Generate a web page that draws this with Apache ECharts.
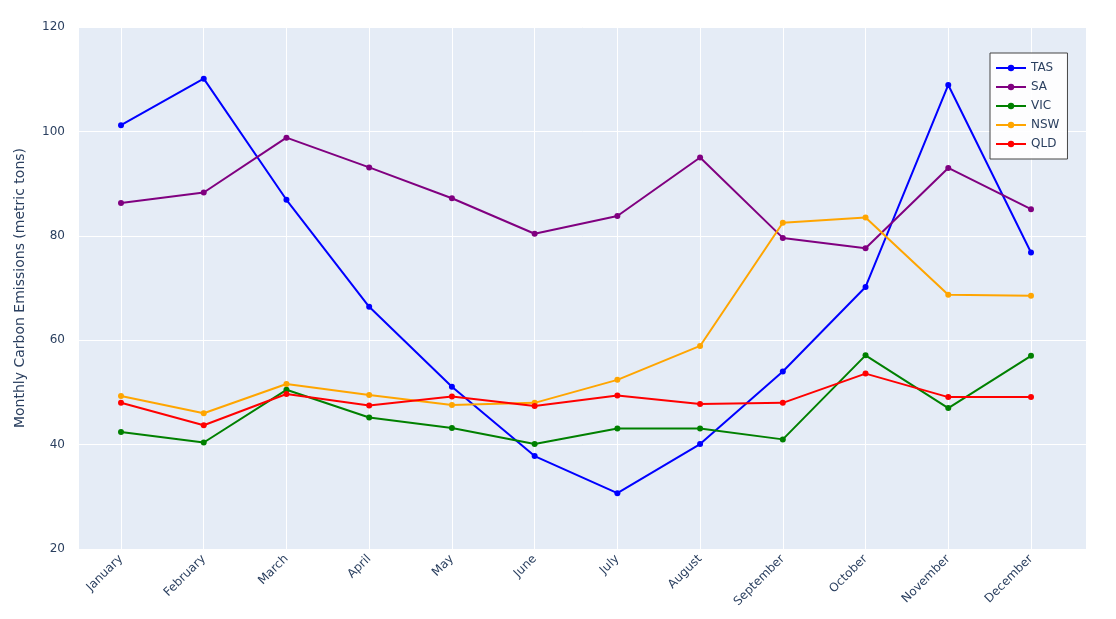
<!DOCTYPE html>
<html>
<head>
<meta charset="utf-8">
<script src="https://cdn.jsdelivr.net/npm/echarts@6/dist/echarts.min.js"></script>
<style>
  html, body { margin: 0; padding: 0; background: #fff; }
  #chart { width: 1116px; height: 619px; }
</style>
</head>
<body>
<div id="chart"></div>
<script>
// Data
const months = ["January", "February", "March", "April", "May", "June",
  "July", "August", "September", "October", "November", "December"];
const yTicks = { min: 20, max: 120, step: 20 };

const tas = [101.2, 110.1, 86.9, 66.4, 51.1, 37.8, 30.7, 40.1, 54.0, 70.2, 108.9, 76.8];
const sa = [86.3, 88.3, 98.8, 93.1, 87.2, 80.4, 83.8, 95.0, 79.6, 77.6, 93.0, 85.1];
const vic = [42.4, 40.4, 50.5, 45.2, 43.2, 40.1, 43.1, 43.1, 41.0, 57.1, 47.0, 57.0];
const nsw = [49.3, 46.0, 51.6, 49.5, 47.6, 48.0, 52.4, 58.9, 82.5, 83.5, 68.7, 68.5];
const qld = [48.0, 43.7, 49.7, 47.5, 49.2, 47.4, 49.4, 47.8, 48.0, 53.6, 49.1, 49.1];

const seriesNames = ["TAS", "SA", "VIC", "NSW", "QLD"];
const seriesData = [tas, sa, vic, nsw, qld];
const seriesColors = ["#0000ff", "#800080", "#008000", "#ffa500", "#ff0000"];

const textColor = "#2a3f5f";
const font = '"DejaVu Sans", Verdana, sans-serif';

const chart = echarts.init(document.getElementById("chart"));

const series = seriesNames.map((name, i) => ({
  name: name,
  type: "line",
  xAxisIndex: 1,
  yAxisIndex: 1,
  data: seriesData[i],
  symbol: "circle",
  symbolSize: 6,
  showSymbol: true,
  lineStyle: { width: 2, color: seriesColors[i] },
  itemStyle: { color: seriesColors[i] },
}));

const option = {
  animation: false,
  textStyle: { fontFamily: font },
  // grid 0 = full plot background, grid 1 = where the points live
  grid: [
    { left: 79, right: 30, top: 27, bottom: 70, show: true,
      backgroundColor: "#e5ecf6", borderWidth: 0 },
    { left: 121, right: 85, top: 27, bottom: 70 },
  ],
  legend: {
    orient: "vertical",
    left: 990,
    top: 53,
    padding: [8, 8, 8, 5],
    itemGap: 5,
    itemWidth: 30,
    itemHeight: 8,
    backgroundColor: "rgba(255,255,255,0.9)",
    borderColor: "#444",
    borderWidth: 1,
    borderRadius: 0,
    textStyle: { color: textColor, fontSize: 12, fontFamily: font, lineHeight: 14 },
    data: seriesNames,
  },
  xAxis: [
    { gridIndex: 0, type: "value", show: false, min: 0, max: 1 },
    {
      gridIndex: 1,
      type: "category",
      boundaryGap: false,
      data: months,
      axisLine: { show: false },
      axisTick: { show: false },
      axisLabel: { rotate: 45, color: textColor, fontSize: 12, margin: 8, interval: 0 },
      splitLine: { show: true, lineStyle: { color: "#ffffff", width: 1 } },
    },
  ],
  yAxis: [
    {
      gridIndex: 0,
      type: "value",
      min: yTicks.min,
      max: yTicks.max,
      interval: yTicks.step,
      name: "Monthly Carbon Emissions (metric tons)",
      nameLocation: "middle",
      nameGap: 52,
      nameTextStyle: { color: textColor, fontSize: 14 },
      axisLine: { show: false },
      axisTick: { show: false },
      axisLabel: { color: textColor, fontSize: 12, margin: 14 },
      splitLine: { lineStyle: { color: "#ffffff", width: 1 } },
    },
    { gridIndex: 1, type: "value", min: yTicks.min, max: yTicks.max, show: false },
  ],
  series: series,
};

chart.setOption(option);
</script>
</body>
</html>
